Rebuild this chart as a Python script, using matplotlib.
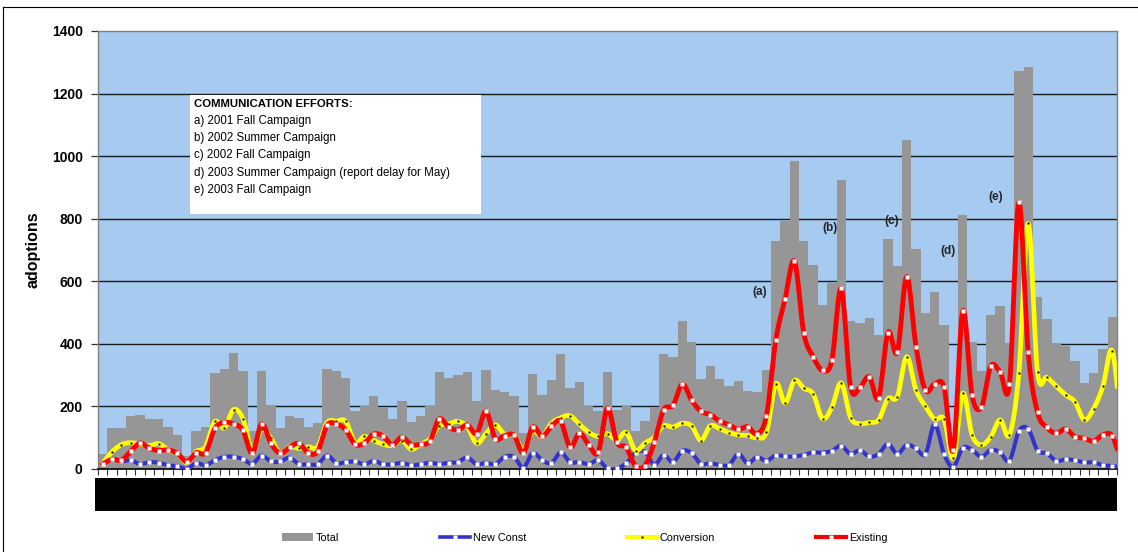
import numpy as np
import matplotlib
matplotlib.use("Agg")
import matplotlib.pyplot as plt
from matplotlib.patches import Rectangle, Patch
from matplotlib.lines import Line2D

plt.rcParams['font.family'] = ['Liberation Sans', 'DejaVu Sans']

# ---------------- data (weekly adoptions) ----------------
total = [
    48, 131, 131, 169, 173, 160, 160, 134, 109, 42,
    121, 134, 307, 320, 371, 313, 121, 313, 205, 131,
    169, 164, 135, 148, 320, 313, 291, 186, 201, 233,
    199, 161, 217, 150, 170, 201, 310, 291, 300, 310,
    217, 316, 253, 246, 233, 116, 304, 236, 284, 367,
    259, 278, 201, 185, 310, 189, 201, 121, 153, 198,
    367, 358, 473, 406, 288, 329, 288, 265, 281, 250,
    246, 316, 729, 793, 984, 729, 652, 524, 596, 924,
    473, 468, 483, 429, 735, 649, 1051, 703, 498, 566,
    460, 105, 812, 406, 313, 492, 521, 403, 1272, 1285,
    550, 479, 403, 393, 345, 275, 307, 384, 486, 140,
]
existing = [
    16, 31, 28, 56, 83, 66, 59, 61, 50, 23,
    52, 52, 130, 149, 144, 124, 50, 144, 82, 50,
    69, 82, 51, 56, 140, 144, 125, 79, 83, 112,
    105, 77, 102, 78, 79, 89, 160, 134, 125, 141,
    113, 184, 97, 107, 108, 51, 134, 104, 136, 152,
    69, 114, 77, 53, 195, 85, 69, 9, 11, 85,
    189, 203, 271, 220, 184, 174, 153, 141, 127, 135,
    112, 170, 411, 544, 664, 434, 359, 315, 347, 577,
    263, 261, 295, 226, 436, 373, 615, 391, 252, 272,
    261, 61, 505, 235, 198, 329, 310, 272, 852, 373,
    181, 133, 114, 128, 103, 98, 89, 109, 105, 15,
]
conversion = [
    18, 55, 78, 84, 80, 75, 81, 61, 50, 20,
    56, 71, 152, 131, 190, 161, 61, 128, 98, 50,
    71, 66, 71, 71, 148, 153, 152, 84, 104, 91,
    79, 75, 91, 63, 79, 96, 138, 144, 152, 135,
    82, 113, 141, 111, 108, 62, 121, 104, 146, 164,
    170, 143, 117, 104, 113, 92, 117, 59, 83, 101,
    138, 134, 146, 138, 91, 138, 129, 116, 109, 107,
    100, 117, 272, 211, 283, 258, 240, 161, 197, 275,
    164, 145, 149, 157, 225, 231, 359, 252, 201, 159,
    159, 34, 242, 109, 77, 103, 157, 109, 306, 785,
    309, 293, 265, 237, 215, 157, 193, 265, 377, 110,
]
new_const = [
    16, 32, 24, 28, 16, 22, 20, 12, 9, 1,
    19, 12, 28, 39, 39, 32, 16, 43, 24, 24,
    36, 16, 15, 15, 43, 19, 22, 24, 15, 26,
    15, 15, 20, 12, 15, 20, 16, 20, 22, 37,
    15, 20, 15, 39, 39, 4, 51, 28, 19, 53,
    22, 22, 16, 28, 2, 2, 18, 52, 55, 13,
    45, 22, 58, 51, 16, 19, 13, 13, 48, 18,
    39, 26, 44, 40, 40, 45, 53, 52, 58, 74,
    48, 60, 40, 48, 80, 48, 77, 66, 47, 143,
    47, 7, 68, 61, 39, 61, 53, 26, 121, 128,
    59, 50, 26, 31, 28, 21, 21, 12, 10, 5,
]
series_labels = ["Total", "New Const", "Conversion", "Existing"]
campaign_title = "COMMUNICATION EFFORTS:"
campaign_lines = [
    "a) 2001 Fall Campaign",
    "b) 2002 Summer Campaign",
    "c) 2002 Fall Campaign",
    "d) 2003 Summer Campaign (report delay for May)",
    "e) 2003 Fall Campaign",
]
marks = ["(a)", "(b)", "(c)", "(d)", "(e)"]
yticks = [0, 200, 400, 600, 800, 1000, 1200, 1400]

# ---------------- figure ----------------
W, H = 1138, 552
fig = plt.figure(figsize=(W / 100, H / 100), dpi=100)
def fx(x): return x / W
def fy(y): return 1 - y / H

ax = fig.add_axes([fx(98), fy(469), fx(1117) - fx(98), fy(31) - fy(469)])
ax.set_facecolor('#A6CAF0')

n_vis = 109
x = np.arange(len(total))
ax.bar(x, total, width=1.0, color='#969696', edgecolor='none', zorder=2)


def smooth(xs, ys, n=16):
    xs = np.asarray(xs, float); ys = np.asarray(ys, float)
    P = np.column_stack([xs, ys])
    out = []
    m = len(P)
    for i in range(m - 1):
        p0 = P[i - 1] if i > 0 else P[i]
        p1 = P[i]; p2 = P[i + 1]
        p3 = P[i + 2] if i + 2 < m else P[i + 1]
        c1 = p1 + (p2 - p0) / 6
        c2 = p2 - (p3 - p1) / 6
        t = np.linspace(0, 1, n, endpoint=(i == m - 2))[:, None]
        seg = ((1 - t) ** 3) * p1 + 3 * ((1 - t) ** 2) * t * c1 + 3 * (1 - t) * t ** 2 * c2 + t ** 3 * p2
        out.append(seg)
    s = np.vstack(out)
    return s[:, 0], s[:, 1]

styles = [
    (new_const, '#3333CC', 2.9, 'white', 2.6),
    (conversion, '#FFFF00', 3.4, 'black', 1.9),
    (existing, '#FF0000', 3.5, 'white', 2.6),
]
z = 3
for ys, col, lw, mc, ms in styles:
    sx, sy = smooth(x, ys)
    ax.plot(sx, sy, color=col, lw=lw, solid_capstyle='round', zorder=z)
    ax.plot(x, ys, linestyle='none', marker='s', ms=ms, mfc=mc, mec='none', zorder=z + 0.5)
    z += 1

ax.set_xlim(-0.5, n_vis - 0.5)
ax.set_ylim(0, 1400)
ax.set_yticks(yticks)
ax.set_yticklabels([str(v) for v in yticks], fontsize=10, fontweight='bold')
for v in yticks[1:-1]:
    ax.axhline(v, color='#1a1a1a', lw=1.0, zorder=1)
ax.set_xticks(np.arange(n_vis + 1) - 0.5)
ax.set_xticklabels([])
ax.tick_params(axis='x', direction='out', length=4, width=0.8, color='#333333')
ax.tick_params(axis='y', direction='out', length=5, width=0.9, color='#333333', pad=6)
for s in ['top', 'right', 'left']:
    ax.spines[s].set_color('#808080')
    ax.spines[s].set_linewidth(1.0)
ax.spines['bottom'].set_color('#000000')
ax.spines['bottom'].set_linewidth(1.2)
fig.text(fx(33), fy(250), 'adoptions', rotation=90, fontsize=11.5, fontweight='bold',
         ha='center', va='center')

# campaign markers
mark_pos = [(760, 292), (830, 228), (892, 221), (948, 251), (996, 197)]
for lab, (px, py) in zip(marks, mark_pos):
    fig.text(fx(px), fy(py), lab, fontsize=8.5, fontweight='bold', color='#222222',
             ha='center', va='center', zorder=10)

# text box
fig.patches.append(Rectangle((fx(190), fy(214)), fx(481) - fx(190), fy(95) - fy(214),
                             transform=fig.transFigure, facecolor='white', edgecolor='none', zorder=5))
fig.text(fx(194), fy(104), campaign_title, fontsize=8.2, fontweight='bold', va='center', zorder=6)
for i, line in enumerate(campaign_lines):
    fig.text(fx(194), fy(121 + 17.2 * i), line, fontsize=8.3, va='center', zorder=6)

# category label band (illegible dense labels in the original)
fig.patches.append(Rectangle((fx(95), fy(511)), fx(1117) - fx(95), fy(478) - fy(511),
                             transform=fig.transFigure, facecolor='black', edgecolor='none'))

# chart border
fig.add_artist(Line2D([fx(3), fx(3)], [fy(7), fy(552)], color='black', lw=0.8, transform=fig.transFigure))
fig.add_artist(Line2D([fx(3), fx(1138)], [fy(7), fy(7)], color='black', lw=0.8, transform=fig.transFigure))

# legend
handles = [
    Patch(facecolor='#969696', edgecolor='none'),
    Line2D([], [], color='#3333CC', lw=2.6, marker='s', ms=2.6, mfc='white', mec='none'),
    Line2D([], [], color='#FFFF00', lw=3.0, marker='s', ms=1.9, mfc='black', mec='none'),
    Line2D([], [], color='#FF0000', lw=3.0, marker='s', ms=2.6, mfc='white', mec='none'),
]
fig.legend(handles, series_labels, loc='center', bbox_to_anchor=(fx(585), fy(538)), ncol=4,
           frameon=False, fontsize=7.8, handlelength=2.8, handletextpad=0.25, columnspacing=9.3,
           handleheight=0.7)

fig.savefig('out.png', dpi=100)
